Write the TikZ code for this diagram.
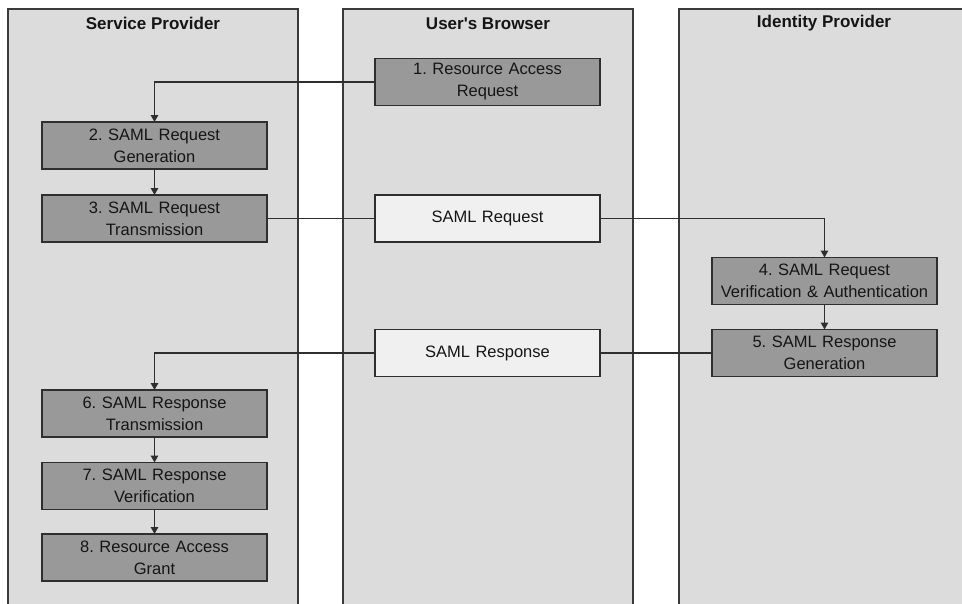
\documentclass[tikz,border=0pt]{standalone}
\usepackage{fontspec}
\setmainfont{Liberation Sans}
\usetikzlibrary{arrows.meta}
\frenchspacing
\definecolor{lanefill}{HTML}{DCDCDC}
\definecolor{lanedraw}{HTML}{3A3A3A}
\definecolor{darkbox}{HTML}{999999}
\definecolor{lightbox}{HTML}{F0F0F0}
\definecolor{edgecol}{HTML}{2E2E2E}
\definecolor{txt}{HTML}{151515}
\begin{document}
\begin{tikzpicture}[x=1pt,y=-1pt,
  lane/.style={draw=lanedraw,fill=lanefill,line width=1.3pt,minimum width=290pt,minimum height=620pt,anchor=north west,inner sep=0pt,outer sep=0pt},
  lanetitle/.style={font=\fontsize{17}{20}\selectfont\bfseries,text=txt,inner sep=0pt},
  stepbox/.style={draw=edgecol,line width=1.4pt,fill=darkbox,text width=215pt,align=center,inner xsep=5pt,inner ysep=0pt,minimum height=47pt,outer sep=0pt,font=\fontsize{16.5}{22}\selectfont,text=txt},
  msgbox/.style={stepbox,fill=lightbox},
  conn/.style={draw=edgecol,line width=1.3pt},
  arr/.style={conn,-{Triangle[length=7pt,width=7.5pt]}}
]
\clip (0,0) rectangle (962,603);
\fill[white] (0,0) rectangle (962,603);
% lanes
\node[lane] (lsp) at (8,9) {};
\node[lane] (lub) at (343,9) {};
\node[lane] (lidp) at (679,9) {};
\node[lanetitle] (tsp) at (153,23.5) {Service Provider};
\node[lanetitle] (tub) at (488,23.5) {User\textquotesingle s Browser};
\node[lanetitle] (tidp) at (824,23.5) {Identity Provider};
% steps
\node[stepbox] (b1) at (487.5,82) {1. Resource Access\\Request};
\node[stepbox] (b2) at (154.5,145.5) {2. SAML Request\\Generation};
\node[stepbox] (b3) at (154.5,218.5) {3. SAML Request\\Transmission};
\node[msgbox] (req) at (487.5,218.5) {SAML Request};
\node[stepbox] (b4) at (824.5,281) {4. SAML Request\\Verification \& Authentication};
\node[stepbox] (b5) at (824.5,353) {5. SAML Response\\Generation};
\node[msgbox] (resp) at (487.5,353) {SAML Response};
\node[stepbox] (b6) at (154.5,413.5) {6. SAML Response\\Transmission};
\node[stepbox] (b7) at (154.5,486) {7. SAML Response\\Verification};
\node[stepbox] (b8) at (154.5,557.5) {8. Resource Access\\Grant};
% connectors
\draw[arr] (b1.west) -| (b2.north);
\draw[arr] (b2.south) -- (b3.north);
\draw[conn] (b3.east) -- (req.west);
\draw[arr] (req.east) -| (b4.north);
\draw[arr] (b4.south) -- (b5.north);
\draw[conn] (b5.west) -- (resp.east);
\draw[arr] (resp.west) -| (b6.north);
\draw[arr] (b6.south) -- (b7.north);
\draw[arr] (b7.south) -- (b8.north);
\end{tikzpicture}
\end{document}
